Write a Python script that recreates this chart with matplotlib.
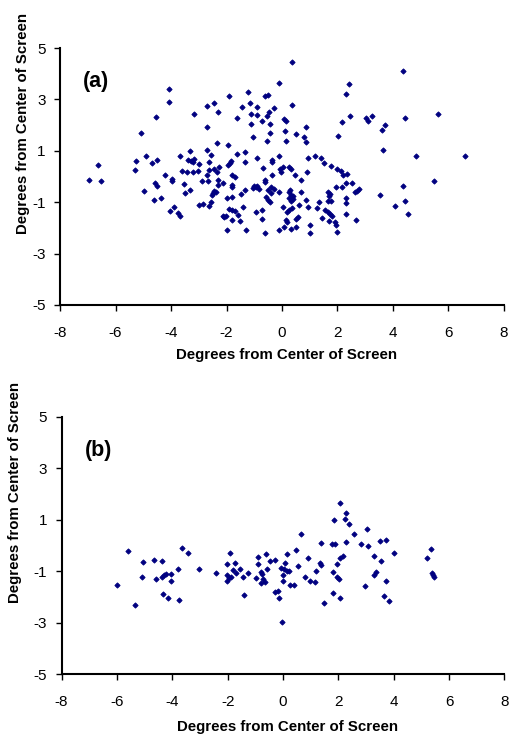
import matplotlib
matplotlib.use("Agg")
import matplotlib.pyplot as plt

plt.rcParams["font.family"] = ["Liberation Sans", "DejaVu Sans"]
plt.rcParams["axes.unicode_minus"] = False

# panel (a) gaze positions, degrees
a_x = [0.35, 4.35, -4.06, -4.06, -0.10, 2.42, -1.22, -1.92, -0.60, -0.49,
       2.29, -2.46, -1.16, 0.35, -2.70, -1.44, -0.89, -0.30, -2.32, -0.46,
       -3.18, 5.64, -1.10, -0.91, -0.53, -4.55, -1.62, 2.44, 3.24, 3.04,
       3.11, 4.45, 0.06, 0.14, -0.73, 2.15, -1.12, -0.42, 3.72, -2.69,
       0.85, 3.60, 0.12, -5.08, -0.44, 0.50, 2.03, -1.04, 0.78, -0.54,
       0.16, 0.85, -2.35, -1.93, 3.65, -2.72, -3.32, -1.33, -1.61, -2.56,
       -4.89, -3.67, -0.12, 1.19, -0.91, 0.95, 1.40, 4.83, 6.60, -4.50,
       -3.16, -3.28, -3.38, -3.21, -1.84, -1.88, -1.34, -0.35, -0.35, -2.64,
       -5.25, -4.67, -2.99, -1.93, -6.65, 1.51, 1.76, 2.00, -0.08, 0.05,
       0.24, 0.31, -0.67, -2.27, -2.46, -2.63, -2.71, -5.29, -3.62, -3.42,
       -3.20, -3.04, -2.33, 0.90, -0.02, 2.14, 2.20, 2.35, -4.23, -1.79,
       -1.69, -0.35, 0.47, -3.97, -3.97, -2.90, -2.68, -2.29, -2.12, -6.96,
       -6.52, 0.67, -0.60, -0.63, 2.54, 2.29, 2.16, 1.94, 5.49, 4.37,
       -3.53, -4.59, -4.50, -2.30, -1.80, -1.79, -1.00, -0.89, -0.95, -0.82,
       -1.04, -0.40, -0.30, -0.49, 2.76, 2.69, 2.62, -4.99, -3.32, -1.34,
       -2.45, -2.37, -2.53, -2.48, -3.50, 0.30, 0.25, 0.31, 0.40, 0.68,
       -0.12, 1.66, 1.72, 1.69, -0.40, -1.46, -0.58, 3.53, -4.36, -1.99,
       -1.79, 0.24, 0.40, 0.31, -0.49, -0.42, 0.85, 2.29, -4.60, 4.45,
       1.65, 1.75, 1.33, 2.29, -2.99, -2.83, -2.56, -2.64, 0.61, 4.06,
       -3.88, -1.40, 0.04, 0.95, 1.25, 0.35, 0.24, 0.17, -1.92, -1.80,
       -1.69, -4.02, -3.76, -3.68, -0.94, -0.73, 1.56, 1.66, 1.74, 1.82,
       2.32, 4.54, -1.57, -1.52, -2.14, -2.09, -2.03, 1.43, 0.58, 0.52,
       -0.73, -1.79, 0.14, 0.17, 1.70, 2.68, 1.91, 1.94, 1.00, 0.07,
       0.34, 0.49, -1.97, -1.31, -0.12, 1.98, -0.61, 1.02]
a_y = [4.45, 4.12, 3.39, 2.92, 3.64, 3.61, 3.29, 3.13, 3.12, 3.17,
       3.20, 2.87, 2.86, 2.79, 2.74, 2.70, 2.72, 2.67, 2.52, 2.52,
       2.45, 2.45, 2.45, 2.39, 2.36, 2.30, 2.27, 2.36, 2.36, 2.27,
       2.16, 2.27, 2.23, 2.16, 2.18, 2.12, 2.04, 2.03, 2.00, 1.94,
       1.94, 1.81, 1.78, 1.71, 1.71, 1.65, 1.56, 1.53, 1.53, 1.40,
       1.40, 1.36, 1.31, 1.21, 1.05, 1.05, 1.00, 0.94, 0.86, 0.84,
       0.78, 0.78, 0.78, 0.78, 0.74, 0.71, 0.71, 0.80, 0.80, 0.65,
       0.69, 0.62, 0.65, 0.57, 0.62, 0.52, 0.57, 0.65, 0.57, 0.58,
       0.60, 0.52, 0.50, 0.43, 0.43, 0.53, 0.42, 0.29, 0.29, 0.36,
       0.36, 0.29, 0.32, 0.36, 0.30, 0.24, 0.06, 0.26, 0.21, 0.17,
       0.19, 0.21, 0.18, 0.16, 0.19, 0.21, 0.05, 0.09, 0.06, 0.07,
       0.00, 0.05, 0.05, -0.10, -0.17, -0.19, -0.17, -0.14, -0.24, -0.13,
       -0.16, -0.13, -0.13, -0.23, -0.26, -0.26, -0.39, -0.39, -0.16, -0.36,
       -0.31, -0.26, -0.36, -0.33, -0.34, -0.42, -0.35, -0.35, -0.42, -0.48,
       -0.45, -0.42, -0.47, -0.53, -0.47, -0.56, -0.62, -0.56, -0.51, -0.51,
       -0.56, -0.60, -0.72, -0.64, -0.64, -0.53, -0.62, -0.72, -0.76, -0.62,
       -0.61, -0.61, -0.69, -0.77, -0.65, -0.68, -0.78, -0.71, -0.82, -0.82,
       -0.78, -0.82, -0.88, -0.95, -0.90, -0.98, -0.90, -0.82, -0.90, -0.94,
       -0.95, -0.95, -1.00, -1.04, -1.09, -1.06, -1.01, -1.16, -1.09, -1.15,
       -1.18, -1.17, -1.17, -1.17, -1.23, -1.23, -1.30, -1.38, -1.25, -1.30,
       -1.35, -1.36, -1.42, -1.52, -1.39, -1.32, -1.32, -1.40, -1.47, -1.53,
       -1.44, -1.47, -1.49, -1.75, -1.52, -1.58, -1.52, -1.62, -1.57, -1.65,
       -1.65, -1.69, -1.70, -1.78, -1.75, -1.71, -1.78, -1.88, -1.90, -1.96,
       -2.04, -1.97, -2.08, -2.08, -2.08, -2.14, -2.21, -2.21]

# panel (b)
b_x = [2.06, 2.29, 1.86, 2.25, 2.40, 3.04, 0.65, 2.55, 3.71, 3.49,
       2.29, 1.36, 2.83, 1.78, 1.87, 3.07, -3.65, 5.35, 0.46, -5.60,
       -3.42, -1.93, -0.60, 0.14, 4.02, 3.30, 2.17, 2.06, 5.22, -0.89,
       0.89, -4.65, -4.37, -0.46, -0.30, 3.53, -5.07, -1.72, 0.06, 1.34,
       1.36, -2.02, -0.89, 1.96, 0.53, -0.06, 0.05, 0.14, 0.23, -3.81,
       -3.05, -0.58, -1.55, -1.80, -1.70, 3.36, 1.82, -4.24, -4.31, -4.04,
       -2.42, -1.25, -0.81, -0.75, 1.19, 5.37, 5.43, 5.47, 0.00, -2.01,
       3.30, -4.37, -5.10, -1.88, -1.95, -1.46, -0.99, -0.71, 1.96, 2.04,
       0.78, -4.59, -2.01, -0.01, 0.96, 1.17, 3.73, -4.04, -0.65, -0.80,
       -6.01, 0.24, 0.39, 2.95, -0.29, -0.18, -4.34, -1.40, 1.82, 3.66,
       -0.16, 2.05, -4.14, -3.77, 3.84, -5.34, 1.47, -0.05]
b_y = [1.65, 1.27, 1.00, 1.03, 0.83, 0.62, 0.44, 0.43, 0.21, 0.18,
       0.15, 0.09, 0.07, 0.04, 0.05, -0.01, -0.10, -0.13, -0.17, -0.22,
       -0.31, -0.31, -0.33, -0.33, -0.28, -0.40, -0.42, -0.48, -0.48, -0.46,
       -0.50, -0.55, -0.59, -0.59, -0.55, -0.59, -0.66, -0.67, -0.68, -0.70,
       -0.75, -0.72, -0.72, -0.72, -0.79, -0.87, -0.93, -1.00, -0.98, -0.93,
       -0.93, -0.92, -0.93, -0.96, -1.06, -1.02, -1.02, -1.10, -1.15, -1.10,
       -1.06, -1.08, -1.03, -1.12, -1.00, -1.09, -1.16, -1.23, -1.14, -1.14,
       -1.15, -1.21, -1.24, -1.24, -1.28, -1.24, -1.28, -1.31, -1.24, -1.29,
       -1.21, -1.31, -1.37, -1.37, -1.37, -1.44, -1.40, -1.40, -1.41, -1.48,
       -1.53, -1.53, -1.54, -1.59, -1.81, -1.79, -1.89, -1.93, -1.86, -1.95,
       -2.04, -2.03, -2.06, -2.12, -2.15, -2.30, -2.24, -2.96]

x_ticks = [-8, -6, -4, -2, 0, 2, 4, 6, 8]
y_ticks = [-5, -3, -1, 1, 3, 5]
label = "Degrees from Center of Screen"


def draw(ax, xs, ys, tag, ylab_x, xlab_y):
    ax.plot(xs, ys, "D", ms=2.7, color="#000080", mec="#000080", mew=0.6)
    ax.set_xlim(-8, 8)
    ax.set_ylim(-5, 5)
    ax.set_xticks(x_ticks)
    ax.set_yticks(y_ticks)
    for s in ["top", "right"]:
        ax.spines[s].set_visible(False)
    for s in ["left", "bottom"]:
        ax.spines[s].set_linewidth(1.5)
    ax.tick_params(axis="both", direction="out", length=4, width=1, labelsize=11)
    ax.tick_params(axis="x", pad=11)
    ax.tick_params(axis="y", pad=6.5)
    ax.set_xlabel(label, fontsize=10.8, fontweight="bold")
    ax.set_ylabel(label, fontsize=10.8, fontweight="bold")
    ax.xaxis.set_label_coords(0.51, xlab_y)
    ax.yaxis.set_label_coords(ylab_x, 0.705)
    ax.text(0.052, 0.868, tag, transform=ax.transAxes, fontsize=15.5,
            fontweight="bold", va="center", ha="left")


fig = plt.figure(figsize=(5.09, 7.34), dpi=100)
ax1 = fig.add_axes([0.118, 0.5845, 0.872, 0.350])
ax2 = fig.add_axes([0.121, 0.0817, 0.870, 0.3506])
draw(ax1, a_x, a_y, "(a)", -0.068, -0.167)
draw(ax2, b_x, b_y, "(b)", -0.090, -0.178)

fig.savefig("out.png", dpi=100)
